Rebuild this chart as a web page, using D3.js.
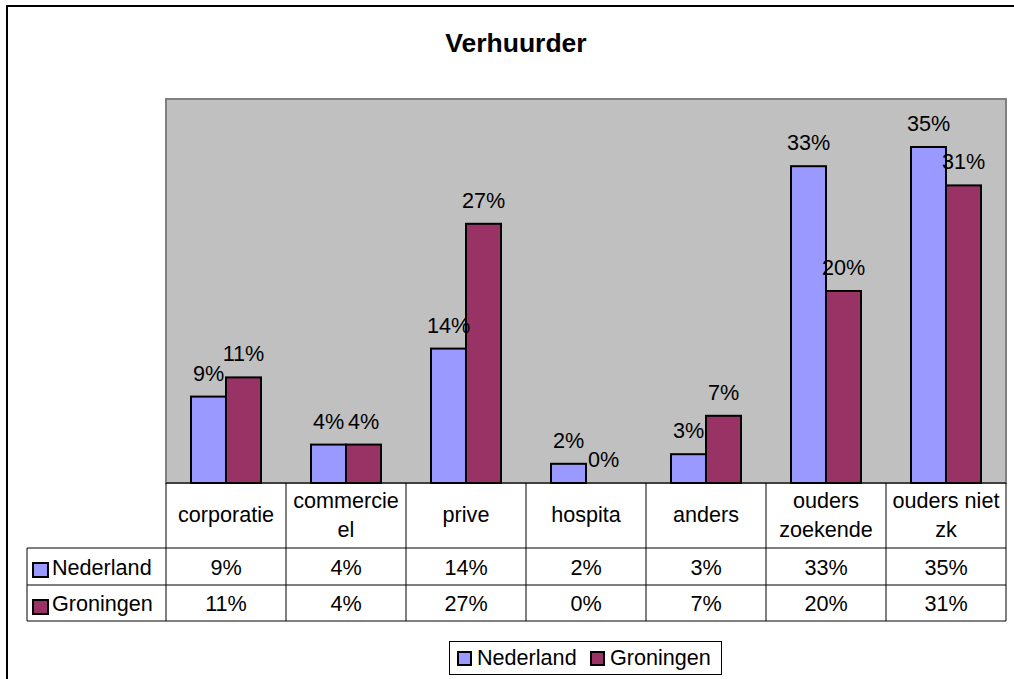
<!DOCTYPE html>
<html>
<head>
<meta charset="utf-8">
<script src="https://cdn.jsdelivr.net/npm/d3@7"></script>
<style>
  body { margin: 0; background: #fff; }
  text { font-family: "Liberation Sans", Arial, sans-serif; fill: #000; }
</style>
</head>
<body>
<svg id="chart" width="1014" height="679"></svg>
<script>
// data
var categories = ["corporatie", "commercie el", "prive", "hospita", "anders", "ouders zoekende", "ouders niet zk"];
// how category names wrap in the table cells
var categoryLines = [["corporatie"], ["commercie", "el"], ["prive"], ["hospita"], ["anders"], ["ouders", "zoekende"], ["ouders niet", "zk"]];
var seriesNames = ["Nederland", "Groningen"];
var nederland = [0.09, 0.04, 0.14, 0.02, 0.03, 0.33, 0.35];
var groningen = [0.11, 0.04, 0.27, 0.00, 0.07, 0.20, 0.31];
var title = "Verhuurder";

var colors = { Nederland: "#9999ff", Groningen: "#993366" };
var seriesValues = { Nederland: nederland, Groningen: groningen };

var svg = d3.select("#chart");
var fs = 21.6;
var fmt = d3.format(".0%");

// plot area
var plot = { left: 166, top: 99, right: 1006, bottom: 483 };

var x = d3.scaleBand()
  .domain(categories)
  .range([plot.left, plot.right]);

var x1 = d3.scaleBand()
  .domain(seriesNames)
  .range([25, x.bandwidth() - 25]);

var y = d3.scaleLinear()
  .domain([0, 0.40])
  .range([plot.bottom, plot.top]);

// chart border
svg.append("rect")
  .attr("x", 7).attr("y", 6)
  .attr("width", 1030).attr("height", 700)
  .attr("fill", "#fff")
  .attr("stroke", "#000")
  .attr("stroke-width", 2);

svg.append("text")
  .attr("x", 516).attr("y", 52)
  .attr("text-anchor", "middle")
  .style("font-size", "26.5px")
  .style("font-weight", "bold")
  .text(title);

svg.append("rect")
  .attr("x", plot.left).attr("y", plot.top)
  .attr("width", plot.right - plot.left)
  .attr("height", plot.bottom - plot.top)
  .attr("fill", "#c0c0c0")
  .attr("stroke", "#808080")
  .attr("stroke-width", 2);

// bars
var rows = [];
seriesNames.forEach(function(s) {
  categories.forEach(function(c, i) {
    rows.push({ series: s, cat: c, value: seriesValues[s][i] });
  });
});

var g = svg.append("g");
g.selectAll("rect")
  .data(rows)
  .enter()
  .append("rect")
  .attr("x", function(d) { return x(d.cat) + x1(d.series); })
  .attr("y", function(d) { return y(d.value); })
  .attr("width", x1.bandwidth())
  .attr("height", function(d) { return y(0) - y(d.value); })
  .attr("fill", function(d) { return colors[d.series]; })
  .attr("stroke", "#000")
  .attr("stroke-width", 2);

g.selectAll("text")
  .data(rows)
  .enter()
  .append("text")
  .attr("x", function(d) { return x(d.cat) + x1(d.series) + x1.bandwidth() / 2; })
  .attr("y", function(d) { return y(d.value) - 16; })
  .attr("text-anchor", "middle")
  .style("font-size", fs + "px")
  .text(function(d) { return fmt(d.value); });

// data table
var tableLeft = 27;
var rowTops = [483, 548, 585, 621];
var line = "#000";

var table = svg.append("g");

// horizontal lines
table.append("line")
  .attr("x1", plot.left).attr("x2", plot.right)
  .attr("y1", rowTops[0]).attr("y2", rowTops[0])
  .attr("stroke", line);
rowTops.slice(1).forEach(function(ty) {
  table.append("line")
    .attr("x1", tableLeft).attr("x2", plot.right)
    .attr("y1", ty).attr("y2", ty)
    .attr("stroke", line);
});

// vertical lines
table.append("line")
  .attr("x1", tableLeft).attr("x2", tableLeft)
  .attr("y1", rowTops[1]).attr("y2", rowTops[3])
  .attr("stroke", line);
categories.concat([null]).forEach(function(c) {
  var vx = c === null ? plot.right : x(c);
  table.append("line")
    .attr("x1", vx).attr("x2", vx)
    .attr("y1", rowTops[0]).attr("y2", rowTops[3])
    .attr("stroke", line);
});

// category labels
var catText = table.selectAll("text.cat")
  .data(categories)
  .enter()
  .append("text")
  .attr("class", "cat")
  .attr("text-anchor", "middle")
  .style("font-size", fs + "px");

catText.each(function(c, i) {
  var lines = categoryLines[i];
  var mid = 522;
  var t = d3.select(this);
  lines.forEach(function(l, k) {
    t.append("tspan")
      .attr("x", x(c) + x.bandwidth() / 2)
      .attr("y", mid + (k - (lines.length - 1) / 2) * 29)
      .text(l);
  });
});

// series rows
seriesNames.forEach(function(s, si) {
  var baseY = rowTops[si + 1] + 27 - si;
  table.append("rect")
    .attr("x", 33).attr("y", rowTops[si + 1] + 15)
    .attr("width", 15).attr("height", 14)
    .attr("fill", colors[s])
    .attr("stroke", "#000")
    .attr("stroke-width", 2);
  table.append("text")
    .attr("x", 52).attr("y", baseY)
    .style("font-size", fs + "px")
    .text(s);
  table.selectAll("text.v" + si)
    .data(seriesValues[s])
    .enter()
    .append("text")
    .attr("x", function(d, i) { return x(categories[i]) + x.bandwidth() / 2; })
    .attr("y", baseY)
    .attr("text-anchor", "middle")
    .style("font-size", fs + "px")
    .text(function(d) { return fmt(d); });
});

// legend
var legend = svg.append("g");
legend.append("rect")
  .attr("x", 449.5).attr("y", 641.5)
  .attr("width", 272).attr("height", 33)
  .attr("fill", "#fff")
  .attr("stroke", "#000");

var legendX = [458, 591];
seriesNames.forEach(function(s, i) {
  legend.append("rect")
    .attr("x", legendX[i]).attr("y", 652)
    .attr("width", 13).attr("height", 13)
    .attr("fill", colors[s])
    .attr("stroke", "#000")
    .attr("stroke-width", 2);
  legend.append("text")
    .attr("x", legendX[i] + 19).attr("y", 665)
    .style("font-size", fs + "px")
    .text(s);
});
</script>
</body>
</html>
